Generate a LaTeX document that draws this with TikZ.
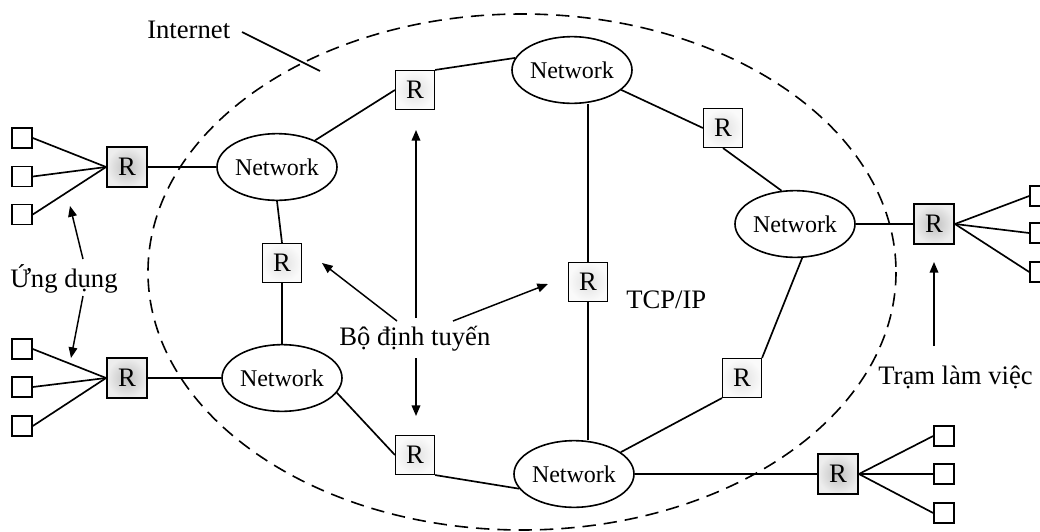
\documentclass[tikz,border=0pt]{standalone}
\usepackage{fontspec}
\setmainfont{Liberation Serif}
\usetikzlibrary{arrows.meta,shapes.geometric}
\begin{document}
\begin{tikzpicture}[x=0.75pt,y=-0.75pt,
  net/.style={draw,ellipse,line width=1.2pt,minimum width=90pt,minimum height=50pt,inner sep=0pt,font=\fontsize{18}{20}\selectfont},
  rin/.style={draw,line width=1.1pt,minimum size=29pt,inner sep=0pt,inner color=gray!24,outer color=gray!4,font=\fontsize{20}{24}\selectfont},
  rout/.style={draw,line width=1.4pt,minimum size=30pt,inner sep=0pt,inner color=gray!50,outer color=gray!14,font=\fontsize{20}{24}\selectfont},
  term/.style={draw,line width=1.2pt,minimum size=15pt,inner sep=0pt},
  conn/.style={line width=1.25pt},
  lbl/.style={anchor=base west,inner sep=0pt,font=\fontsize{20}{24}\selectfont},
  arr/.style={line width=1.1pt,-{Triangle[length=8pt,width=6.5pt]}}
]
\useasboundingbox (0,0) rectangle (1040,532);
% Internet boundary
\draw[line width=1.2pt,dash pattern=on 10pt off 6pt] (522,272) ellipse [x radius=374, y radius=258];

% networks
\node[net] (netT)  at (572,70)  {Network};
\node[net] (netR)  at (795,224) {Network};
\node[net] (netUL) at (277,167) {Network};
\node[net] (netLL) at (282,378) {Network};
\node[net] (netB)  at (574,474) {Network};

% inner routers
\node[rin] (rA) at (415,90)  {R};
\node[rin] (rB) at (723,128) {R};
\node[rin] (rC) at (282,263) {R};
\node[rin] (rD) at (588,282) {R};
\node[rin] (rE) at (742,378) {R};
\node[rin] (rF) at (415,455) {R};

% outer routers
\node[rout] (rL1) at (127,167) {R};
\node[rout] (rL2) at (127,378) {R};
\node[rout] (rR)  at (934,224) {R};
\node[rout] (rBR) at (838,474) {R};

% terminals
\node[term] (t1) at (22,138) {};
\node[term] (t2) at (22,176.5) {};
\node[term] (t3) at (22,214.5) {};
\node[term] (t4) at (22,349) {};
\node[term] (t5) at (22,387) {};
\node[term] (t6) at (22,426) {};
\node[term] (t7) at (1040,196) {};
\node[term] (t8) at (1040,233) {};
\node[term] (t9) at (1040,272) {};
\node[term] (t10) at (944,436) {};
\node[term] (t11) at (944,474) {};
\node[term] (t12) at (944,513) {};

\foreach \t in {t1,t2,t3} \draw[conn] (\t.east) -- (rL1.west);
\foreach \t in {t4,t5,t6} \draw[conn] (\t.east) -- (rL2.west);
\foreach \t in {t7,t8,t9} \draw[conn] (rR.east) -- (\t.west);
\foreach \t in {t10,t11,t12} \draw[conn] (rBR.east) -- (\t.west);

% connectors
\draw[conn] (rL1.east) -- (netUL.west);
\draw[conn] (rL2.east) -- (netLL.west);
\draw[conn] (netUL.35) -- (rA.west);
\draw[conn] (rA.north east) -- (netT.168);
\draw[conn] (netT.-22) -- (rB.west);
\draw[conn] (rB.south) -- (netR.112);
\draw[conn] (rD.north) -- (rD.north |- netT.south);
\draw[conn] (rD.south) -- (rD.south |- netB.north);
\draw[conn] (netR.east) -- (rR.west);
\draw[conn] (netR.-78) -- (rE.north east);
\draw[conn] (rE.south west) -- (netB.25);
\draw[conn] (netB.east) -- (rBR.west);
\draw[conn] (netUL.south) -- (rC.north);
\draw[conn] (rC.south) -- (netLL.north);
\draw[conn] (netLL.-15) -- (rF.west);
\draw[conn] (rF.south east) -- (netB.195);

% labels
\node[lbl] (lInternet) at (147,38) {Internet};
\node[lbl] (lBo) at (339,345) {Bộ định tuyến};
\node[lbl] (lTcp) at (626,308) {TCP/IP};
\node[lbl] (lTram) at (878,384) {Trạm làm việc};
\node[lbl] (lUng) at (10,287) {Ứng dụng};

% pointer and arrows
\coordinate (iA) at (242,32);
\coordinate (iB) at (320,71);
\draw[conn] (iA) -- (iB);

\coordinate (bUL) at (397,321);
\coordinate (bUR) at (453,321);
\coordinate (bUp) at (416,318);
\coordinate (bDn) at (416,358);
\coordinate (hC) at (322,263);
\coordinate (hD) at (548,284);
\coordinate (hUp) at (416,130);
\coordinate (hDn) at (416,416);
\draw[arr] (bUL) -- (hC);
\draw[arr] (bUR) -- (hD);
\draw[arr] (bUp) -- (hUp);
\draw[arr] (bDn) -- (hDn);

\coordinate (uUp) at (83,259);
\coordinate (uDn) at (83,296);
\coordinate (huUp) at (70,206);
\coordinate (huDn) at (71,358);
\draw[arr] (uUp) -- (huUp);
\draw[arr] (uDn) -- (huDn);

\coordinate (tT) at (934,346);
\coordinate (htT) at (934,262);
\draw[arr] (tT) -- (htT);
\end{tikzpicture}
\end{document}
